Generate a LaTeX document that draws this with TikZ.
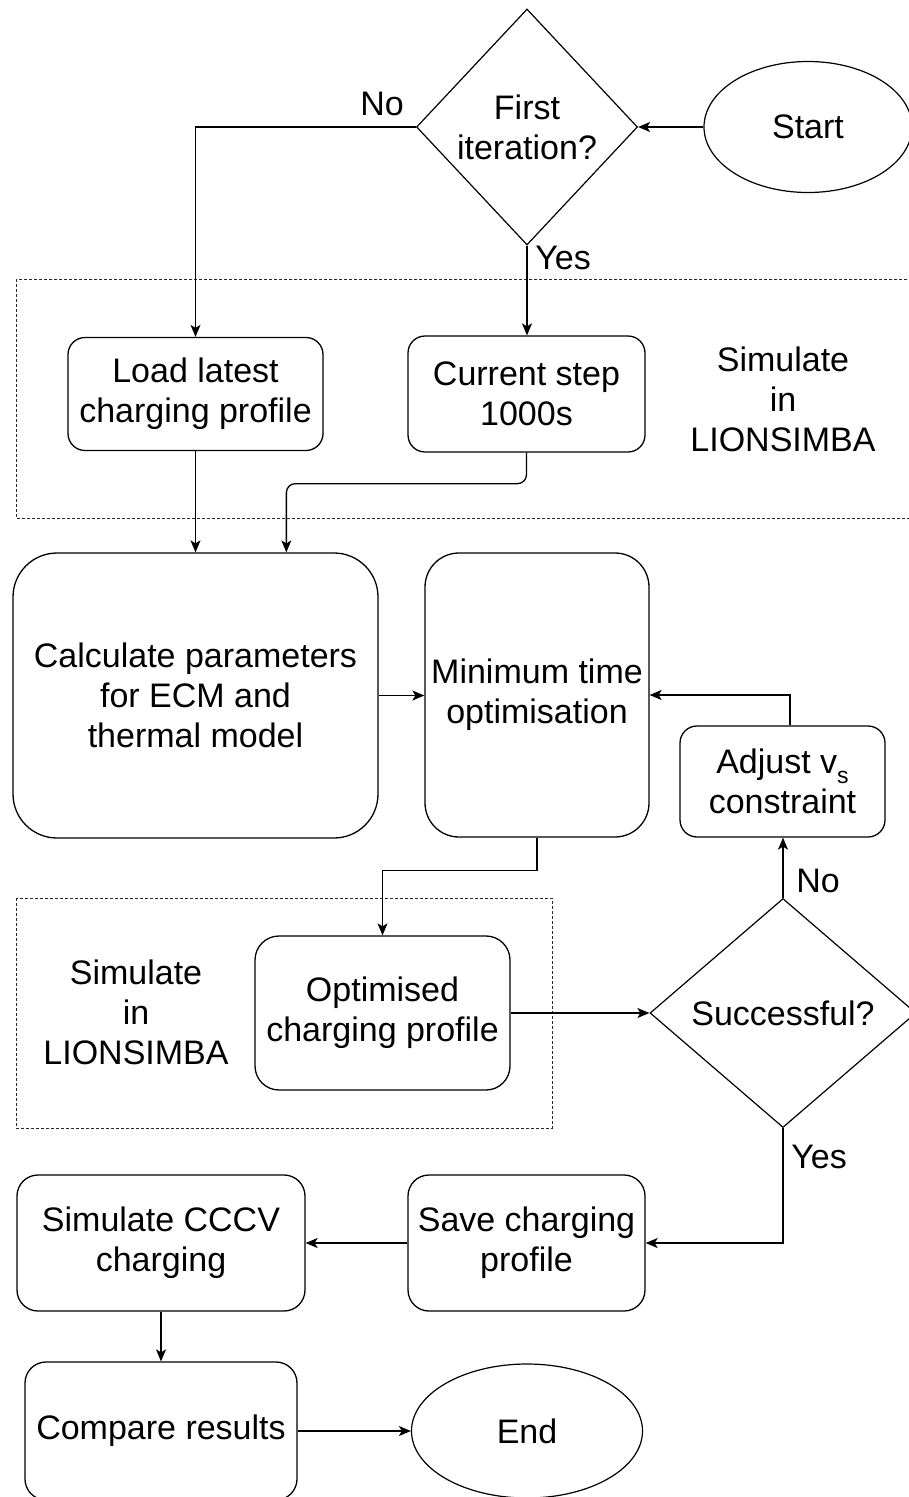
\documentclass[tikz,border=0pt]{standalone}
\usepackage{fontspec}
\setmainfont{Liberation Sans}
\usetikzlibrary{shapes.geometric,arrows.meta,calc}
\begin{document}
\begin{tikzpicture}[x=1pt,y=-1pt,
  every node/.style={font=\fontsize{34}{40}\selectfont},
  box/.style={draw,line width=1.3pt,rounded corners=#1,inner sep=0pt,align=center},
  box/.default=17pt,
  dia/.style={draw,diamond,aspect=1,line width=1.2pt,inner sep=0pt},
  oval/.style={draw,ellipse,line width=1.2pt,inner sep=0pt},
  txt/.style={align=center,inner sep=0pt},
  conn/.style={line width=1.3pt,-{Stealth[length=12pt,width=10pt,inset=3pt]}},
  group/.style={draw=black!85,line width=0.9pt,dash pattern=on 3pt off 2pt},
]
\clip (0,0) rectangle (909,1497);
\fill[white] (0,0) rectangle (909,1497);

% groups
\draw[group] (16,279) rectangle (915,518);
\draw[group] (16,898) rectangle (552,1128);
\node[txt] (sim1) at (783,399) {Simulate\\in\\LIONSIMBA};
\node[txt] (sim2) at (136,1012) {Simulate\\in\\LIONSIMBA};

% nodes
\node[oval,minimum width=208,minimum height=131] (start) at (808,127) {Start};
\node[dia,minimum width=221,minimum height=236] (first) at (527,127) {};
\node[txt] (firsttxt) at (first) {First\\iteration?};
\node[box,minimum width=255,minimum height=113] (load) at (195.5,394) {Load latest\\charging profile};
\node[box,minimum width=237,minimum height=116] (cur) at (526.5,394) {Current step\\1000s};
\node[box=44pt,minimum width=365,minimum height=285] (calc) at (195.5,695.5) {Calculate parameters\\for ECM and\\thermal model};
\node[box=34pt,minimum width=224,minimum height=284] (min) at (537,695) {Minimum time\\optimisation};
\node[box,minimum width=205,minimum height=111] (adj) at (782.5,781.5) {Adjust v\raisebox{-0.28em}{\fontsize{23}{23}\selectfont s}\\constraint};
\node[box=24pt,minimum width=255,minimum height=154] (opt) at (382.5,1013) {Optimised\\charging profile};
\node[dia,minimum width=266,minimum height=229] (succ) at (783,1013) {};
\node[txt] (succtxt) at (succ) {Successful?};
\node[box=21pt,minimum width=237,minimum height=136] (save) at (526.5,1243) {Save charging\\profile};
\node[box=21pt,minimum width=288,minimum height=136] (cccv) at (161,1243) {Simulate CCCV\\charging};
\node[box=21pt,minimum width=272,minimum height=138] (cmp) at (161,1431) {Compare results};
\node[oval,minimum width=231,minimum height=134] (end) at (527,1431) {End};

% labels
\node[txt] (no1) at (382,104) {No};
\node[txt] (yes1) at (563,258) {Yes};
\node[txt] (no2) at (818,881) {No};
\node[txt] (yes2) at (819,1157) {Yes};

% connectors
\draw[conn] (start.west) -- (first.east);
\draw[conn] (first.west) -| (load.north);
\draw[conn] (first.south) -- (first.south |- cur.north);
\draw[conn] (load.south) -- (load.south |- calc.north);
\draw[conn,rounded corners=9pt] (cur.south) -- ++(0,31) -| ($(calc.north west)+(274,0)$);
\draw[conn] (calc.east) -- (calc.east -| min.west);
\draw[conn] (min.south) -- ++(0,33) -| (opt.north);
\draw[conn] (opt.east) -- (opt.east -| succ.west);
\draw[conn] (succ.north) -- (succ.north |- adj.south);
\draw[conn] ($(adj.north)+(7.5,0)$) |- (min.east);
\draw[conn] (succ.south) |- (save.east);
\draw[conn] (save.west) -- (cccv.east);
\draw[conn] (cccv.south) -- (cmp.north);
\draw[conn] (cmp.east) -- (end.west);
\end{tikzpicture}
\end{document}
